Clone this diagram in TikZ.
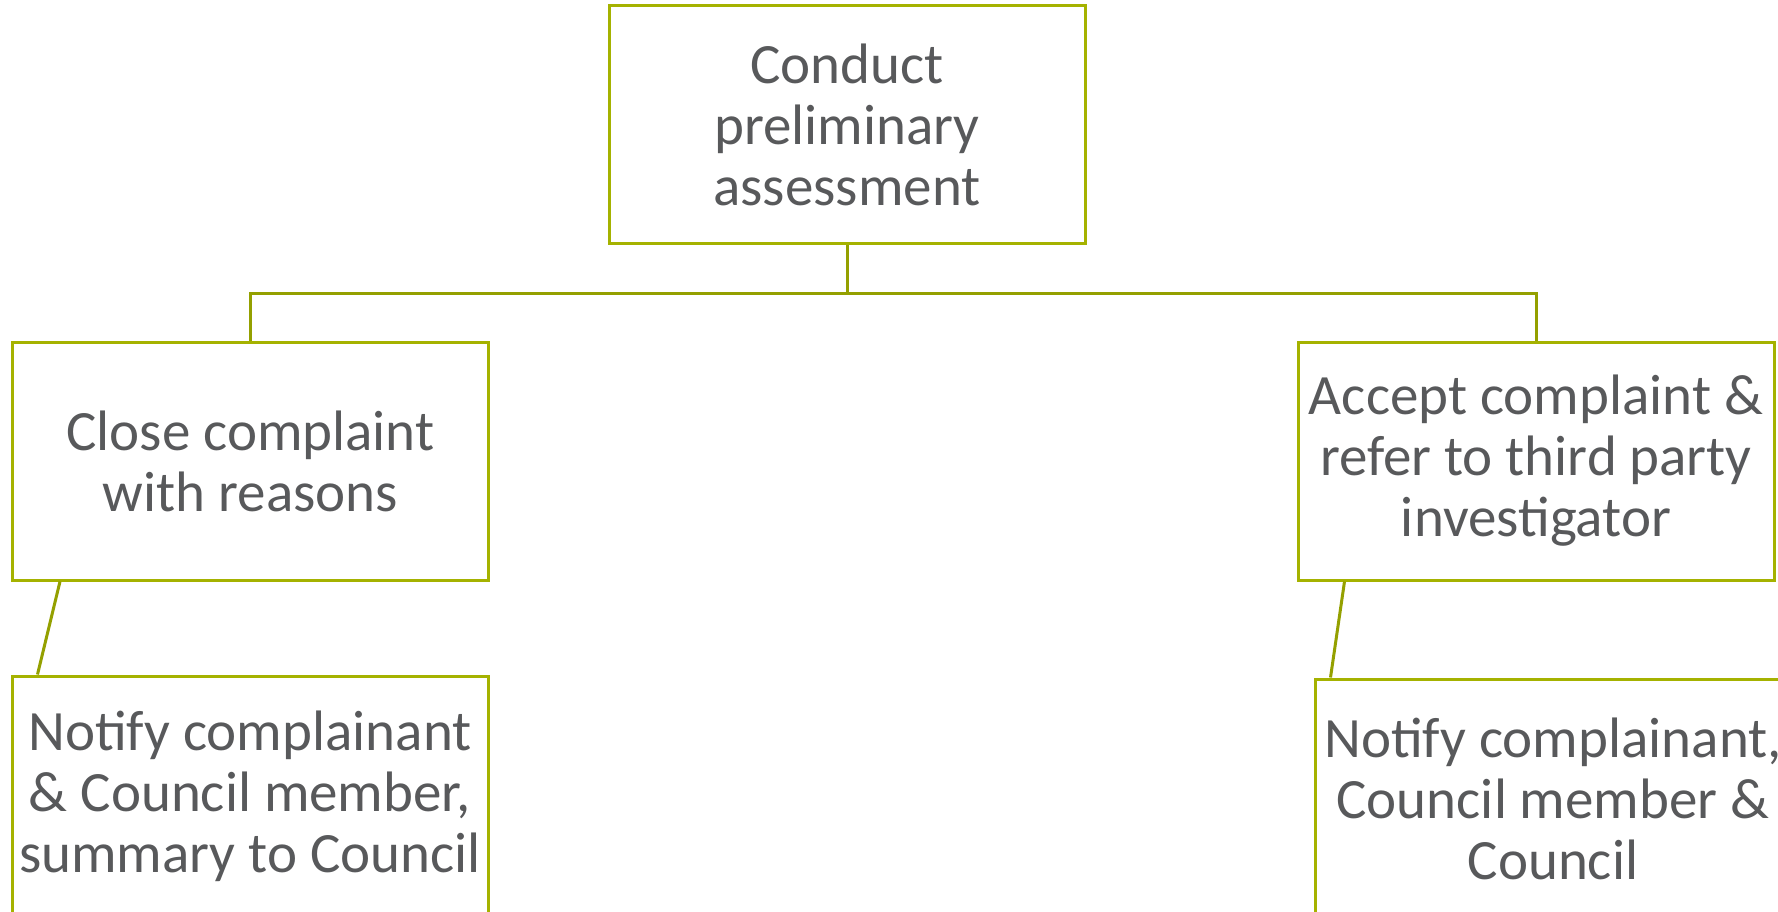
\documentclass[tikz,border=0pt]{standalone}
\usepackage{fontspec}
\setmainfont{Carlito}
\usetikzlibrary{positioning}
\definecolor{boxline}{HTML}{A5B200}
\definecolor{linkline}{HTML}{94A000}
\definecolor{textgray}{HTML}{58595B}

\begin{document}
\begin{tikzpicture}[x=1pt, y=-1pt,
            box/.style={draw=boxline, line width=3pt, rectangle, minimum width=476pt, minimum height=238pt, inner sep=0pt, align=center, text=textgray, font=\fontsize{57}{61}\selectfont},
            link/.style={draw=linkline, line width=3pt}]

            \useasboundingbox (0,0) rectangle (1778,912);
            \clip (0,0) rectangle (1778,912);

            \node[box] (assess) at (847,125) {Conduct\\preliminary\\assessment};
            \node[box] (close) at (250.5,461) {Close complaint\\with reasons};
            \node[box] (accept) at (1536,461) {Accept complaint \&\\refer to third party\\investigator};
            \node[box, minimum height=240pt] (notifyclose) at (250,796) {Notify complainant\\\& Council member,\\summary to Council};
            \node[box, minimum height=240pt] (notifyaccept) at (1553,799) {Notify complainant,\\Council member \&\\Council};

            \coordinate (split) at (847,293);

            \draw[link] (assess.south) -- (split);
            \draw[link] (close.north) |- (split) -| (accept.north);
            \draw[link] ([xshift=49pt]close.south west) -- ([xshift=27pt]notifyclose.north west);
            \draw[link] ([xshift=48pt]accept.south west) -- ([xshift=17pt]notifyaccept.north west);
        \end{tikzpicture}
\end{document}
